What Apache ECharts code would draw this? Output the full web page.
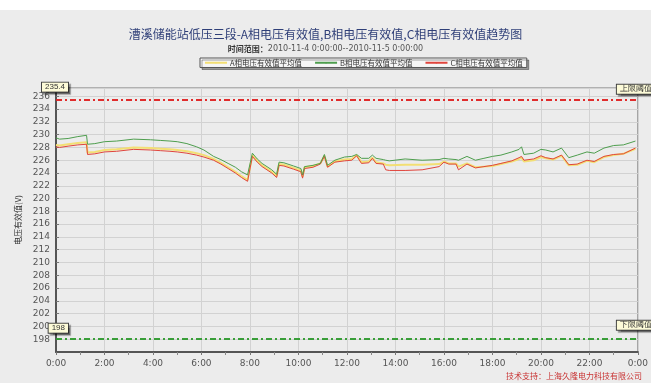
<!DOCTYPE html>
<html>
<head>
<meta charset="utf-8">
<script src="https://cdn.jsdelivr.net/npm/echarts@6/dist/echarts.min.js"></script>
<style>
  html, body { margin: 0; padding: 0; background: #fff; }
  #chart { width: 651px; height: 383px; }
</style>
</head>
<body>
<div id="chart"></div>
<script>
// 时间点（小时）
var hours = [0, 0.15, 0.5, 0.9, 1.26, 1.3, 1.6, 2.0, 2.5, 3.2, 3.9, 4.3, 4.7, 5.0, 5.4, 5.8,
  6.1, 6.5, 6.8, 7.1, 7.4, 7.65, 7.9, 8.1, 8.3, 8.5, 8.9, 9.1, 9.2, 9.4, 9.8, 10.1, 10.17,
  10.25, 10.6, 10.9, 11.07, 11.2, 11.5, 11.9, 12.2, 12.4, 12.6, 12.9, 13.05, 13.2, 13.5,
  13.6, 13.75, 14.4, 15.1, 15.8, 16.0, 16.2, 16.5, 16.6, 16.95, 17.3, 17.65, 18.0, 18.35,
  18.8, 19.1, 19.2, 19.3, 19.7, 20.0, 20.2, 20.5, 20.85, 21.15, 21.5, 21.9, 22.2, 22.6,
  23.0, 23.4, 23.9];

var phaseA = [228.4, 228.3, 228.5, 228.7, 228.8, 227.2, 227.3, 227.6, 227.7, 228.0, 227.9,
  227.8, 227.7, 227.6, 227.4, 227.1, 226.8, 226.2, 225.6, 224.9, 224.2, 223.5, 222.9, 226.8,
  225.9, 225.2, 224.2, 223.5, 225.4, 225.3, 224.8, 224.4, 223.4, 224.9, 225.1, 225.5, 226.7,
  225.0, 225.8, 226.1, 226.2, 226.8, 225.7, 225.8, 226.4, 225.7, 225.5, 225.3, 225.2, 225.3,
  225.3, 225.4, 225.8, 225.5, 225.5, 225.0, 225.5, 224.9, 225.0, 225.1, 225.4, 225.8, 226.2,
  226.4, 225.8, 226.0, 226.5, 226.3, 226.1, 226.7, 225.2, 225.3, 225.9, 225.7, 226.5, 226.8,
  227.0, 227.8];

var phaseB = [229.5, 229.3, 229.4, 229.7, 229.9, 228.5, 228.6, 228.9, 229.0, 229.3, 229.2,
  229.1, 229.0, 228.9, 228.6, 228.1, 227.6, 226.6, 226.1, 225.5, 224.9, 224.2, 223.7, 227.1,
  226.2, 225.5, 224.5, 223.8, 225.7, 225.6, 225.1, 224.7, 223.7, 225.0, 225.2, 225.5, 226.9,
  225.2, 226.0, 226.5, 226.6, 226.9, 226.3, 226.3, 226.8, 226.3, 226.1, 226.0, 225.9, 226.2,
  226.0, 226.1, 226.3, 226.2, 226.1, 226.0, 226.6, 226.0, 226.3, 226.6, 226.8, 227.3, 227.7,
  228.1, 226.9, 227.1, 227.7, 227.6, 227.3, 227.9, 226.4, 226.8, 227.3, 227.1, 227.9, 228.3,
  228.4, 229.0];

var phaseC = [228.1, 228.0, 228.2, 228.4, 228.5, 226.9, 227.0, 227.3, 227.4, 227.7, 227.6,
  227.5, 227.4, 227.3, 227.1, 226.8, 226.5, 226.0, 225.4, 224.7, 224.0, 223.3, 222.7, 226.6,
  225.7, 225.0, 224.0, 223.3, 225.2, 225.1, 224.6, 224.2, 223.2, 224.7, 224.9, 225.4, 226.6,
  224.9, 225.7, 225.9, 226.0, 226.7, 225.5, 225.6, 226.3, 225.5, 225.4, 224.5, 224.4, 224.4,
  224.5, 225.0, 225.7, 225.4, 225.4, 224.5, 225.4, 224.8, 225.0, 225.2, 225.5, 225.9, 226.4,
  226.6, 226.0, 226.2, 226.7, 226.4, 226.2, 226.8, 225.3, 225.4, 226.0, 225.8, 226.6, 226.9,
  227.0, 227.9];

var seriesNames = ["A相电压有效值平均值", "B相电压有效值平均值", "C相电压有效值平均值"];
var upperLimit = 235.4;
var lowerLimit = 198;

function pairs(values) {
  var out = [];
  for (var i = 0; i < hours.length; i++) {
    out.push([hours[i], values[i]]);
  }
  return out;
}

var boxLabel = {
  show: true,
  fontSize: 8,
  color: "#333",
  backgroundColor: "#fdfbd8",
  borderColor: "#444",
  borderWidth: 1,
  padding: [1, 3, 0, 3],
  shadowColor: "rgba(0,0,0,0.35)",
  shadowOffsetX: 2,
  shadowOffsetY: 2,
  shadowBlur: 1,
};

var chart = echarts.init(document.getElementById("chart"));
var option = {
  backgroundColor: "#ffffff",
  animation: false,
  graphic: [
    {
      type: "rect",
      z: -10,
      shape: { x: 0, y: 10, width: 651, height: 373 },
      style: { fill: "#ececec" },
    },
  ],
  title: [
    {
      text: "漕溪储能站低压三段-A相电压有效值,B相电压有效值,C相电压有效值趋势图",
      left: "center",
      top: 23,
      textStyle: { fontSize: 12, fontWeight: "normal", color: "#2f3f78", fontFamily: "Noto Sans CJK SC" },
      subtext: "{b|时间范围：}{d|2010-11-4 0:00:00--2010-11-5 0:00:00}",
      itemGap: 5,
      subtextStyle: {
        rich: {
          b: { fontSize: 8, fontWeight: "bold", color: "#333", fontFamily: "Noto Sans CJK SC" },
          d: { fontSize: 8, color: "#555", fontFamily: "DejaVu Sans" },
        },
      },
    },
    {
      text: "技术支持：上海久隆电力科技有限公司",
      left: 501,
      top: 367,
      textStyle: { fontSize: 8, fontWeight: "normal", color: "#c83232", fontFamily: "Noto Sans CJK SC" },
    },
  ],
  legend: {
    top: 58,
    left: 200,
    data: seriesNames,
    itemWidth: 22,
    itemHeight: 2,
    itemGap: 12,
    padding: [1, 4],
    backgroundColor: "#f6f6f6",
    borderColor: "#555",
    borderWidth: 1,
    shadowColor: "rgba(0,0,0,0.35)",
    shadowOffsetX: 2,
    shadowOffsetY: 2,
    textStyle: { fontSize: 7.5, color: "#333", fontFamily: "Noto Sans CJK SC", padding: [0, 0, 0, -2] },
  },
  grid: {
    left: 56,
    right: 13,
    top: 88,
    bottom: 31,
    show: true,
    borderColor: "#777",
    borderWidth: 1,
    backgroundColor: "transparent",
  },
  xAxis: {
    type: "value",
    min: 0,
    max: 24,
    interval: 2,
    axisLine: { lineStyle: { color: "#555", width: 2 } },
    axisTick: { show: true, length: 3, lineStyle: { color: "#777" } },
    minorTick: { show: true, splitNumber: 2, length: 3, lineStyle: { color: "#888" } },
    splitLine: { show: true, lineStyle: { color: "#d2d2d2" } },
    axisLabel: {
      fontSize: 9,
      color: "#555",
      margin: 7,
      fontFamily: "DejaVu Sans",
      formatter: function (v) {
        return (v % 24) + ":00";
      },
    },
  },
  yAxis: {
    type: "value",
    min: 196,
    max: 237.3,
    interval: 2,
    name: "电压有效值(V)",
    nameLocation: "middle",
    nameGap: 34,
    nameTextStyle: { fontSize: 8, color: "#333", fontFamily: "Noto Sans CJK SC" },
    axisLine: { show: true, lineStyle: { color: "#555", width: 2 } },
    axisTick: { show: true, inside: true, length: 3, lineStyle: { color: "#777" } },
    splitLine: { show: true, lineStyle: { color: "#d2d2d2" } },
    axisLabel: {
      fontSize: 9,
      color: "#555",
      margin: 6,
      fontFamily: "DejaVu Sans",
      showMinLabel: false,
      showMaxLabel: false,
    },
  },
  series: [
    {
      name: seriesNames[0],
      type: "line",
      symbol: "none",
      color: "#f3df74",
      lineStyle: { width: 2 },
      data: pairs(phaseA),
      z: 2,
    },
    {
      name: seriesNames[2],
      type: "line",
      symbol: "none",
      color: "#e0453d",
      lineStyle: { width: 1 },
      data: pairs(phaseC),
      z: 3,
      markLine: {
        symbol: "none",
        silent: true,
        data: [
          {
            yAxis: upperLimit,
            lineStyle: { color: "#e02020", type: [6, 3, 2, 3], width: 1.5 },
            label: Object.assign({}, boxLabel, { position: "start", formatter: "235.4", offset: [17, -13] }),
          },
          {
            yAxis: upperLimit,
            lineStyle: { color: "#e02020", type: [6, 3, 2, 3], width: 1.5 },
            label: Object.assign({}, boxLabel, { position: "end", formatter: "上限阈值", offset: [-26, -11] }),
          },
          {
            yAxis: lowerLimit,
            lineStyle: { color: "#2f9a2f", type: [6, 3, 2, 3], width: 1.5 },
            label: Object.assign({}, boxLabel, { position: "start", formatter: "198", offset: [17, -11] }),
          },
          {
            yAxis: lowerLimit,
            lineStyle: { color: "#2f9a2f", type: [6, 3, 2, 3], width: 1.5 },
            label: Object.assign({}, boxLabel, { position: "end", formatter: "下限阈值", offset: [-26, -14] }),
          },
        ],
      },
    },
    {
      name: seriesNames[1],
      type: "line",
      symbol: "none",
      color: "#4e9e4e",
      lineStyle: { width: 1 },
      data: pairs(phaseB),
      z: 4,
    },
  ],
};

chart.setOption(option);
</script>
</body>
</html>
